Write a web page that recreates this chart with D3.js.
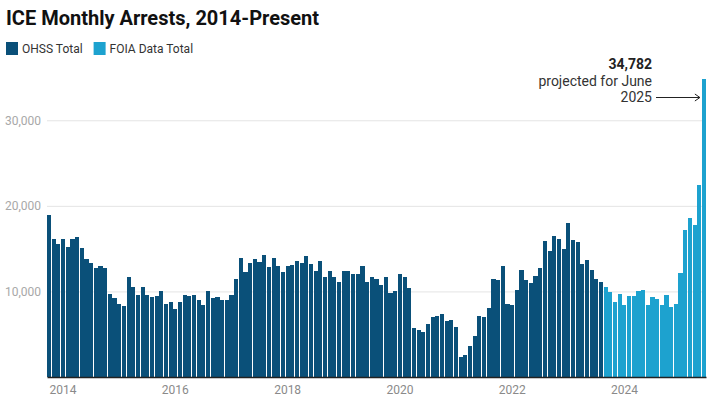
<!DOCTYPE html>
<html>
<head>
  <meta charset="utf-8">
  <title>ICE Monthly Arrests</title>
  <script src="https://d3js.org/d3.v7.min.js"></script>
  <style>
    body { margin: 0; background: #fff; font-family: Roboto, "Noto Sans", sans-serif; }
    svg text { font-family: Roboto, "Noto Sans", sans-serif; }
  </style>
</head>
<body>
  <div id="chart"></div>
  <script>

    // monthly arrests, Oct 2013 - Aug 2023 (OHSS)
    var ohssTotal = [
      18950, 16080, 15600, 16080, 15230, 16100, 16400, 15020, 13740, 13370, 12690, 13000,
      12690, 9670, 9190, 8510, 8280, 11630, 10470, 9540, 10470, 9540, 9320, 9420,
      10100, 8510, 8720, 7900, 8720, 9535, 9440, 9535, 8950, 8370, 10000, 9190,
      9300, 8950, 8950, 9535, 11400, 13950, 12230, 13370, 13840, 13490, 14300, 12900,
      13950, 13020, 12250, 13020, 13140, 13600, 13290, 14190, 13250, 12440, 13600, 11670,
      12330, 11630, 11160, 12440, 12330, 12090, 12090, 13020, 11160, 11630, 11400, 10800,
      11740, 9770, 10000, 11980, 11740, 10350, 5720, 5470, 5300, 6160, 6980, 7090,
      7330, 6510, 6630, 5830, 2340, 2540, 3600, 4770, 7090, 6980, 8020, 11400,
      11280, 13020, 8510, 8370, 10120, 12560, 11280, 10930, 11860, 12790, 15950, 14770,
      16510, 16160, 15000, 18040, 16050, 15830, 13260, 13720, 12560, 11510, 11050
    ]

    // Sep 2023 - Jun 2025 (FOIA), last month projected
    var foiaTotal = [
      10470, 9880, 8720, 9650, 8370, 9420, 9420, 10000, 10120, 8370, 9300, 9070,
      8370, 9535, 8140, 8490, 12210, 17210, 18600, 17790, 22440, 34782
    ]

    var seriesNames = ["OHSS Total", "FOIA Data Total"]
    var seriesColors = ["#0a5079", "#1da2cf"]
    var yTicks = [10000, 20000, 30000]
    var yearTicks = [2014, 2016, 2018, 2020, 2022, 2024]

    var months = d3.timeMonth.range(new Date(2013, 9, 1), new Date(2025, 6, 1))
    var data = ohssTotal.map(function(v, i) { return {date: months[i], value: v, series: 0} })
      .concat(foiaTotal.map(function(v, i) { return {date: months[ohssTotal.length + i], value: v, series: 1} }))

    var W = 710, H = 399
    var margin = {top: 77.5, right: 4, bottom: 22, left: 47}
    var width = W - margin.left - margin.right,
        height = H - margin.top - margin.bottom

    var svg = d3.select("#chart").append("svg")
      .attr("width", W).attr("height", H)

    // title + legend
    svg.append("text")
      .attr("x", 6).attr("y", 25)
      .style("font-size", "20px").style("font-weight", "700").style("fill", "#111")
      .text("ICE Monthly Arrests, 2014-Present")

    var leg = svg.append("g").attr("transform", "translate(6,42)")
    var lx = 0
    seriesNames.forEach(function(name, i) {
      var item = leg.append("g").attr("transform", "translate(" + lx + ",0)")
      item.append("rect").attr("width", 12).attr("height", 13).attr("fill", seriesColors[i])
      var t = item.append("text").attr("x", 16).attr("y", 11)
        .style("font-size", "12px").style("fill", "#333").text(name)
      lx += 16 + t.node().getComputedTextLength() + 11
    })

    var g = svg.append("g")
      .attr("transform", "translate(" + margin.left + "," + margin.top + ")")

    var x = d3.scaleBand()
      .domain(months)
      .range([0, width])
      .paddingInner(0.12)
      .paddingOuter(0)

    var y = d3.scaleLinear()
      .domain([0, 35000])
      .range([height, 0])

    // gridlines + y labels
    var yAxis = g.append("g")
      .call(d3.axisLeft(y).tickValues(yTicks).tickSize(-width).tickPadding(6).tickFormat(d3.format(",")))
    yAxis.select(".domain").remove()
    yAxis.selectAll("line").attr("stroke", "#e4e4e4")
    yAxis.selectAll("text").style("font-size", "12px").style("fill", "#a8a8a8")

    // bars
    g.append("g").selectAll("rect")
      .data(data)
      .enter().append("rect")
        .attr("x", function(d) { return x(d.date) })
        .attr("y", function(d) { return y(d.value) })
        .attr("width", x.bandwidth())
        .attr("height", function(d) { return height - y(d.value) })
        .attr("fill", function(d) { return seriesColors[d.series] })
        .attr("shape-rendering", "crispEdges")

    // x axis
    var jan = months.filter(function(m) { return m.getMonth() == 0 && yearTicks.indexOf(m.getFullYear()) >= 0 })
    var xAxis = g.append("g")
      .attr("transform", "translate(0," + height + ")")
      .call(d3.axisBottom(x).tickValues(jan).tickSize(0).tickPadding(8).tickFormat(d3.timeFormat("%Y")))
    xAxis.select(".domain").attr("stroke", "#222").attr("stroke-width", 1.3)
    xAxis.selectAll("text").style("font-size", "12px").style("fill", "#8a8a8a")

    // annotation for the projected month
    var last = data[data.length - 1]
    var ann = svg.append("g").style("font-size", "14px").style("fill", "#333").attr("text-anchor", "end")
    ann.append("text").attr("x", 652).attr("y", 69).style("font-weight", "700").style("fill", "#222")
      .text(d3.format(",")(last.value))
    ann.append("text").attr("x", 652).attr("y", 86).text("projected for June")
    ann.append("text").attr("x", 652).attr("y", 102).text("2025")

    var ax = margin.left + x(last.date) - 2
    svg.append("line")
      .attr("x1", 656).attr("y1", 97.5).attr("x2", ax).attr("y2", 97.5)
      .attr("stroke", "#222").attr("stroke-width", 1)
    svg.append("path")
      .attr("d", "M" + (ax - 5) + "," + 94 + "L" + ax + "," + 97.5 + "L" + (ax - 5) + "," + 101)
      .attr("fill", "none").attr("stroke", "#222").attr("stroke-width", 1)

  </script>
</body>
</html>
